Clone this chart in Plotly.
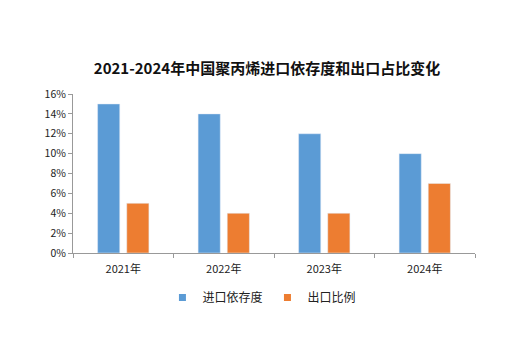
import plotly.graph_objects as go

categories = ["2021年", "2022年", "2023年", "2024年"]
import_dep = [15, 14, 12, 10]
export_ratio = [5, 4, 4, 7]
y_ticks = [0, 2, 4, 6, 8, 10, 12, 14, 16]
y_tick_labels = [f"{v}%" for v in y_ticks]
series_names = ["进口依存度", "出口比例"]
colors = ["#5B9BD5", "#ED7D31"]

font_family = "Noto Sans CJK SC, DejaVu Sans, sans-serif"

fig = go.Figure()
for name, vals, c in zip(series_names, [import_dep, export_ratio], colors):
    fig.add_trace(go.Bar(x=categories, y=vals, name=name, marker_color=c,
                         showlegend=False, legendgroup=name))
for name, c in zip(series_names, colors):
    fig.add_trace(go.Scatter(x=[None], y=[None], mode="markers", name=name,
                             marker=dict(symbol="square", size=7, color=c),
                             legendgroup=name, showlegend=True))

fig.update_layout(
    width=515, height=360,
    margin=dict(l=73, r=40, t=94, b=107),
    paper_bgcolor="white", plot_bgcolor="white",
    barmode="group", bargap=0.42, bargroupgap=0.24,
    title=dict(text="<b>2021-2024年中国聚丙烯进口依存度和出口占比变化</b>",
               x=267/515, xanchor="center", y=1 - 69/360, yanchor="middle",
               font=dict(family=font_family, size=15, color="#111")),
    font=dict(family=font_family, size=10, color="#222"),
    showlegend=True,
    legend=dict(orientation="h", x=0.47, xanchor="center", y=-0.28, yanchor="middle",
                font=dict(size=12, color="#222"), itemwidth=30, traceorder="normal",
                tracegroupgap=0),
)
fig.update_xaxes(showline=True, linecolor="#999", linewidth=1, ticks="outside",
                 tickson="boundaries", ticklen=4, tickcolor="#999", showgrid=False,
                 tickfont=dict(size=11), ticklabelstandoff=6)
fig.update_yaxes(range=[0, 16], tickvals=y_ticks, ticktext=y_tick_labels,
                 showline=True, linecolor="#999", linewidth=1, ticks="outside",
                 ticklen=4, tickcolor="#999", showgrid=False, zeroline=False,
                 tickfont=dict(size=10.5))

fig.write_html("out.html")
